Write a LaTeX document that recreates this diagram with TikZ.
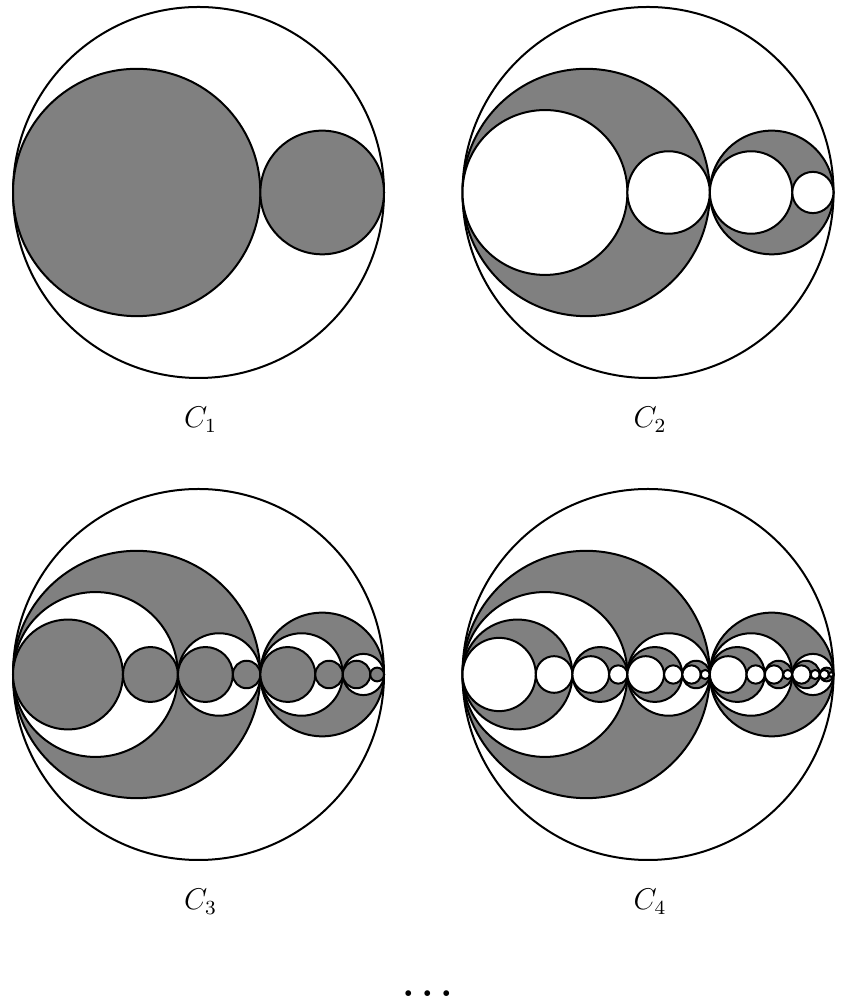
\documentclass[tikz,border=0pt]{standalone}
\usepackage{amsmath,amssymb}
\usepackage{xcolor}
\usepackage{tikz}
\definecolor{discgray}{RGB}{128, 128, 128}
\definecolor{discline}{RGB}{0, 0, 0}

% one disc, then its two children (2/3 and 1/3 of the diameter), down to level #5
\newcommand\nestdisc[5]{%
  \begingroup
  \pgfmathsetmacro\discrad{#3/2}%
  \pgfmathsetmacro\discbig{#3*2/3}%
  \pgfmathsetmacro\discsmall{#3/3}%
  \pgfmathsetmacro\discsplit{#1+#3*2/3}%
  \pgfmathtruncatemacro\disclevel{#4+1}%
  \ifodd#4\relax\def\disctone{discgray}\else\def\disctone{white}\fi
  \filldraw[disc, fill=\disctone] ({#1+\discrad},#2) circle (\discrad);
  \ifnum#4<#5\relax
    \edef\discnext{\noexpand\nestdisc{#1}{#2}{\discbig}{\disclevel}{#5}%
      \noexpand\nestdisc{\discsplit}{#2}{\discsmall}{\disclevel}{#5}}%
    \discnext
  \fi
  \endgroup}

\begin{document}
\begin{tikzpicture}[x=0.4pt, y=0.4pt,
  disc/.style={draw=discline, line width=0.8pt},
  stage/.style={font=\large, anchor=base, inner sep=0pt}]
  \useasboundingbox (0,0) rectangle (847,1004);
  % The four stages C_1 ... C_4
  \foreach \n/\cx/\cy in {1/198.5/811.5, 2/648/811.5, 3/198.5/329.5, 4/648/329.5} {
    \pgfmathsetmacro\lx{\cx-185.5}
    \nestdisc{\lx}{\cy}{371}{0}{\n}
    \node[stage] (stage-\n) at (\cx+2,\cy-235.5) {$C_{\n}$};
  }
  % and so on
  \node[font=\fontsize{16}{19}\selectfont\bfseries, anchor=base, inner sep=0pt] (more) at (428,7) {.\,.\,.};
\end{tikzpicture}
\end{document}
